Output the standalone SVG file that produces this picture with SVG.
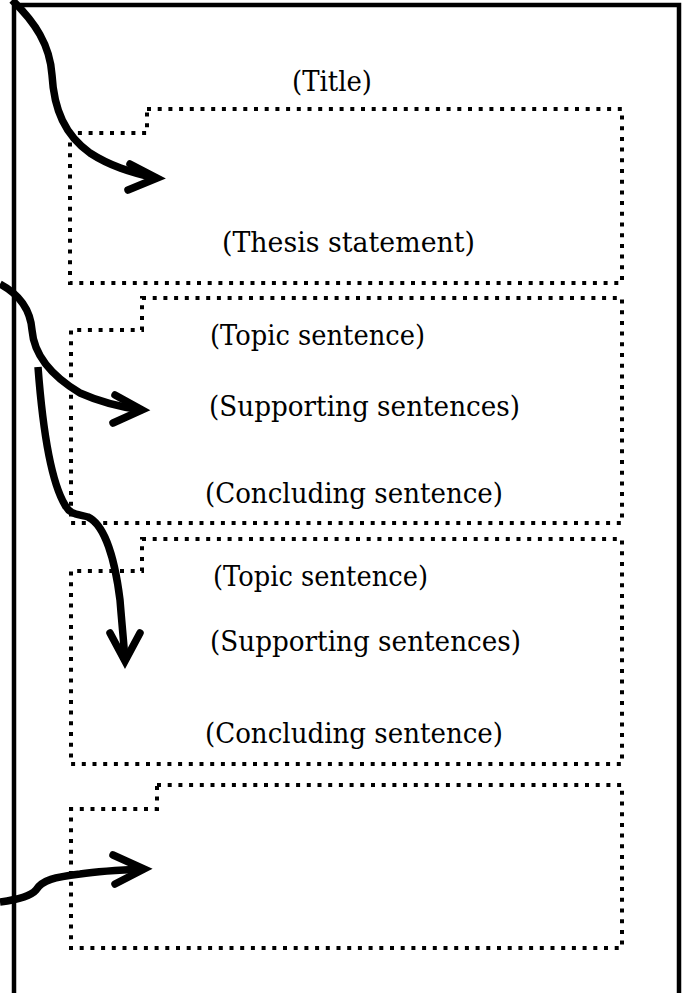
<svg xmlns="http://www.w3.org/2000/svg" width="686" height="993" viewBox="0 0 686 993">
<style>
.frame{fill:none;stroke:#000;stroke-width:4.5}
.box{fill:none;stroke:#000;stroke-width:4;stroke-dasharray:4 6.7}
.lbl{font-family:"DejaVu Serif","Liberation Serif",serif;font-size:27.5px;fill:#000}
.arr{fill:none;stroke:#000;stroke-width:7.5;stroke-linecap:butt}
.head{fill:none;stroke:#000;stroke-width:7.5;stroke-linecap:round;stroke-linejoin:miter}
</style>
<rect width="686" height="993" fill="#fff"/>
<g id="page">
<path class="frame" d="M14,993 V5 H679 V993"/>
</g>
<g id="title"><text class="lbl" x="292" y="91" textLength="80" lengthAdjust="spacingAndGlyphs">(Title)</text></g>
<g id="intro">
<path class="box" d="M147,109 H622 V283 H70 V133 H147 Z"/>
<text class="lbl" x="222" y="252" textLength="253" lengthAdjust="spacingAndGlyphs">(Thesis statement)</text>
</g>
<g id="body1">
<path class="box" d="M142,298 H622 V523 H71 V330 H142 Z"/>
<text class="lbl" x="210" y="345" textLength="215" lengthAdjust="spacingAndGlyphs">(Topic sentence)</text>
<text class="lbl" x="209" y="416" textLength="311" lengthAdjust="spacingAndGlyphs">(Supporting sentences)</text>
<text class="lbl" x="205" y="503" textLength="298" lengthAdjust="spacingAndGlyphs">(Concluding sentence)</text>
</g>
<g id="body2">
<path class="box" d="M142,539 H622 V764 H71 V571 H142 Z"/>
<text class="lbl" x="213" y="586" textLength="215" lengthAdjust="spacingAndGlyphs">(Topic sentence)</text>
<text class="lbl" x="210" y="651" textLength="311" lengthAdjust="spacingAndGlyphs">(Supporting sentences)</text>
<text class="lbl" x="205" y="743" textLength="298" lengthAdjust="spacingAndGlyphs">(Concluding sentence)</text>
</g>
<g id="conclusion">
<path class="box" d="M157,785 H622 V948 H71 V809 H157 Z"/>
</g>
<g id="connectors">
<path class="arr" d="M12,0 C35,22 50,45 52,75 C54,110 65,135 90,153 C110,166 130,172 155,178"/>
<path class="head" d="M130,164 L157,178 L128,190"/>
<path class="arr" d="M0,284 C15,292 30,305 32,330 C34,355 50,375 80,393 C100,402 120,407 142,410"/>
<path class="head" d="M115,395 L142,410 L113,423"/>
<path class="arr" d="M38,367 C42,420 50,480 65,505 C70,515 78,514 88,517 C105,525 115,560 120,600 C122,625 124,645 125,660"/>
<path class="head" d="M110,633 L125,661 L140,633"/>
<path class="arr" d="M0,902 C15,900 30,897 36,890 C42,880 55,877 80,874 C100,871 120,870 144,869"/>
<path class="head" d="M113,855 L144,869 L115,884"/>
</g>
</svg>
